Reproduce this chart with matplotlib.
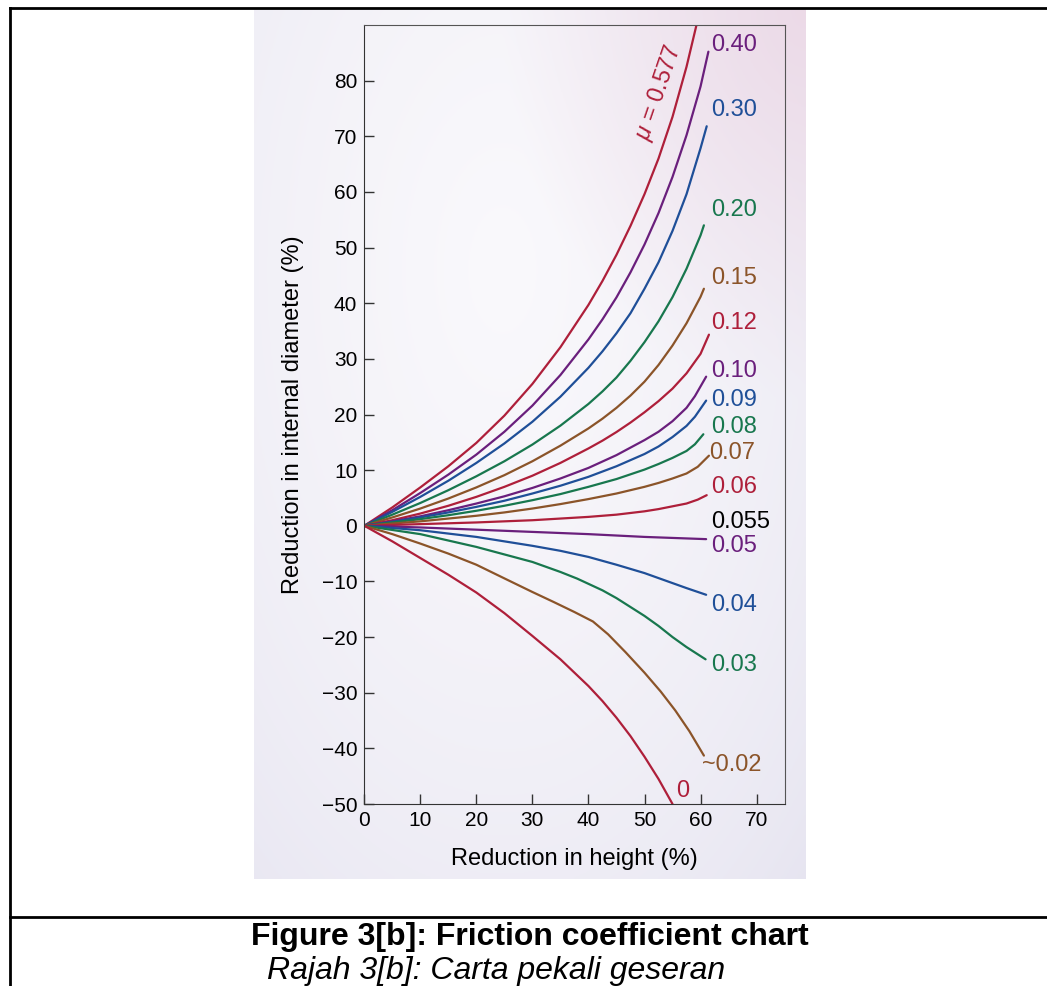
import numpy as np
import matplotlib
matplotlib.use('Agg')
import matplotlib.pyplot as plt
from matplotlib.lines import Line2D

plt.rcParams['font.family'] = ['Liberation Sans', 'DejaVu Sans']
plt.rcParams['mathtext.fontset'] = 'custom'
plt.rcParams['mathtext.it'] = 'Liberation Sans:italic'
plt.rcParams['mathtext.rm'] = 'Liberation Sans'

RED = '#ae1f3a'
PURPLE = '#6a1f7c'
BLUE = '#1f4f98'
GREEN = '#18774e'
BROWN = '#8b5429'

# reduction in height (%) -> reduction in internal diameter (%), one curve per friction coefficient
x_577 = [0, 5, 10, 15, 20, 25, 30, 35, 40, 42.5, 45, 47.5, 50, 52.5, 55, 57.5, 59.3]
y_577 = [0, 3.3, 6.9, 10.7, 14.9, 19.8, 25.5, 32.1, 39.7, 44, 48.7, 53.9, 59.6, 66, 73.5, 82.5, 90.1]
x_40 = [0, 5, 10, 15, 20, 25, 30, 35, 40, 42.5, 45, 47.5, 50, 52.5, 55, 57.5, 60, 61.4]
y_40 = [0, 2.8, 5.9, 9.2, 12.8, 16.9, 21.6, 27.1, 33.5, 37.1, 41.05, 45.55, 50.55, 56.2, 62.7, 70.2, 78.95, 85.2]
x_30 = [0, 5, 10, 15, 20, 25, 30, 35, 40, 42.5, 45, 47.5, 50, 52.5, 55, 57.5, 60, 61.1]
y_30 = [0, 2.5, 5.2, 8.1, 11.3, 14.8, 18.7, 23.2, 28.4, 31.35, 34.6, 38.2, 42.6, 47.35, 53, 59.6, 67.85, 71.8]
x_20 = [0, 5, 10, 15, 20, 25, 30, 35, 40, 42.5, 45, 47.5, 50, 52.5, 55, 57.5, 60, 60.6]
y_20 = [0, 2, 4.1, 6.4, 8.9, 11.6, 14.6, 18, 21.9, 24.15, 26.65, 29.65, 33, 36.75, 41.1, 46.2, 52.2, 54]
x_15 = [0, 5, 10, 15, 20, 25, 30, 35, 40, 42.5, 45, 47.5, 50, 52.5, 55, 57.5, 60, 60.6]
y_15 = [0, 1.5, 3.1, 4.9, 6.9, 9.1, 11.6, 14.4, 17.5, 19.25, 21.2, 23.4, 25.9, 28.9, 32.4, 36.4, 41.15, 42.6]
x_12 = [0, 5, 10, 15, 20, 25, 30, 35, 40, 42.5, 45, 47.5, 50, 52.5, 55, 57.5, 60, 61.5]
y_12 = [0, 1, 2.2, 3.6, 5.2, 7, 9, 11.3, 13.9, 15.3, 16.85, 18.55, 20.4, 22.4, 24.65, 27.4, 30.9, 34.35]
x_10 = [0, 5, 10, 15, 20, 25, 30, 35, 40, 45, 50, 52.5, 55, 57.5, 59, 61]
y_10 = [0, 0.8, 1.7, 2.8, 4, 5.3, 6.8, 8.5, 10.4, 12.7, 15.4, 16.9, 18.8, 21.2, 23.3, 26.8]
x_09 = [0, 5, 10, 15, 20, 25, 30, 35, 40, 45, 50, 52.5, 55, 57.5, 59, 61]
y_09 = [0, 0.7, 1.5, 2.4, 3.4, 4.5, 5.8, 7.2, 8.8, 10.7, 12.9, 14.25, 15.95, 17.95, 19.6, 22.5]
x_08 = [0, 5, 10, 15, 20, 25, 30, 35, 40, 45, 50, 52.5, 55, 57.5, 59, 60.5]
y_08 = [0, 0.6, 1.2, 1.9, 2.7, 3.6, 4.6, 5.7, 7, 8.4, 10.1, 11.1, 12.2, 13.45, 14.65, 16.45]
x_07 = [0, 5, 10, 15, 20, 25, 30, 35, 40, 45, 50, 52.5, 55, 57.5, 59.5, 61.5]
y_07 = [0, 0.4, 0.8, 1.3, 1.8, 2.4, 3.1, 3.9, 4.8, 5.8, 7, 7.7, 8.5, 9.4, 10.6, 12.6]
x_06 = [0, 10, 20, 30, 40, 45, 50, 52.5, 55, 57.5, 59.5, 61.1]
y_06 = [0, 0.3, 0.6, 1, 1.6, 2, 2.6, 3, 3.5, 4, 4.7, 5.5]
x_05 = [0, 10, 20, 30, 40, 50, 61]
y_05 = [0, -0.3, -0.7, -1.1, -1.5, -2, -2.4]
x_04 = [0, 10, 20, 30, 35, 40, 45, 50, 55, 57.5, 61]
y_04 = [0, -0.8, -2, -3.6, -4.5, -5.6, -7, -8.5, -10.3, -11.2, -12.4]
x_03 = [0, 10, 20, 30, 35, 38, 42.5, 45, 47.5, 50, 52.5, 55, 57.5, 60.9]
y_03 = [0, -1.5, -3.8, -6.5, -8.3, -9.5, -11.6, -13, -14.6, -16.2, -18, -20, -21.8, -24]
x_02 = [0, 5, 10, 15, 20, 25.5, 30, 33.8, 37.5, 40.8, 43.5, 46.6, 50, 52.9, 55.5, 58, 60.6]
y_02 = [0, -1.5, -3.2, -5, -7, -9.7, -11.9, -13.7, -15.5, -17.2, -19.5, -22.7, -26.4, -29.8, -33.2, -36.9, -41.3]
x_00 = [0, 5, 10, 15, 20, 25, 30, 35, 40, 42.5, 45, 47.5, 50, 52.5, 55]
y_00 = [0, -2.8, -5.8, -8.8, -12, -15.7, -19.8, -24, -28.8, -31.5, -34.5, -37.8, -41.5, -45.5, -50]

curves = [
    (x_577, y_577, RED), (x_40, y_40, PURPLE), (x_30, y_30, BLUE),
    (x_20, y_20, GREEN), (x_15, y_15, BROWN), (x_12, y_12, RED),
    (x_10, y_10, PURPLE), (x_09, y_09, BLUE), (x_08, y_08, GREEN),
    (x_07, y_07, BROWN), (x_06, y_06, RED), (x_05, y_05, PURPLE),
    (x_04, y_04, BLUE), (x_03, y_03, GREEN), (x_02, y_02, BROWN),
    (x_00, y_00, RED),
]

label_text = ['0.40', '0.30', '0.20', '0.15', '0.12', '0.10', '0.09', '0.08',
              '0.07', '0.06', '0.055', '0.05', '0.04', '0.03', '~0.02', '0']
label_x = [61.8, 61.8, 61.8, 61.8, 61.8, 61.8, 61.8, 61.8,
           61.6, 61.8, 61.8, 61.8, 61.8, 61.8, 60.3, 55.6]
label_y = [86.4, 74.7, 56.8, 44.5, 36.4, 27.9, 22.6, 17.8,
           13.0, 7.0, 0.6, -3.6, -14.2, -25.0, -43.0, -47.6]
label_col = [PURPLE, BLUE, GREEN, BROWN, RED, PURPLE, BLUE, GREEN,
             BROWN, RED, 'black', PURPLE, BLUE, GREEN, BROWN, RED]

W, H = 1047, 986
fig = plt.figure(figsize=(W / 100, H / 100), dpi=100)

# soft photo-like background behind the chart
bg = fig.add_axes([254 / W, 1 - 879 / H, (806 - 254) / W, (879 - 8) / H])
yy, xx = np.mgrid[0:1:300j, 0:1:200j]
base = np.array([226, 224, 238]) / 255
white = np.array([250, 249, 252]) / 255
pink = np.array([236, 216, 230]) / 255
d = np.sqrt(((xx - 0.45) / 0.85) ** 2 + ((yy - 0.3) / 1.0) ** 2)
glow = np.clip(1 - d, 0, 1) ** 0.55
img = base + (white - base) * glow[..., None]
p = np.clip(1 - np.sqrt(((xx - 1.0) / 0.55) ** 2 + (yy / 0.45) ** 2), 0, 1)
img = img + (pink - img) * (p[..., None] * 0.9)
bg.imshow(img, aspect='auto', extent=[0, 1, 0, 1])
bg.axis('off')

ax = fig.add_axes([364.3 / W, 1 - 804 / H, (784.6 - 364.3) / W, (804 - 25) / H])
ax.set_facecolor('none')
for xs, ys, c in curves:
    ax.plot(xs, ys, color=c, lw=1.6, solid_capstyle='round', solid_joinstyle='round')

for t, lx, ly, c in zip(label_text, label_x, label_y, label_col):
    ax.text(lx, ly, t, color=c, fontsize=17, ha='left', va='center')
ax.text(52.6, 77.8, r'$\mu$ = 0.577', color=RED, fontsize=17, rotation=71,
        ha='center', va='center', rotation_mode='anchor')

ax.set_xlim(0, 75)
ax.set_ylim(-50, 90)
ax.set_xticks(range(0, 71, 10))
ax.set_yticks(range(-50, 81, 10))
ax.tick_params(direction='in', length=7, width=1, color='#333333', labelsize=15, pad=5)
for s in ['left', 'bottom']:
    ax.spines[s].set_color('#333333')
for s in ['top', 'right']:
    ax.spines[s].set_color('#555555')
ax.set_xlabel('Reduction in height (%)', fontsize=17, labelpad=13)
ax.set_ylabel('Reduction in internal diameter (%)', fontsize=17, labelpad=13)

# document table lines and caption
lk = dict(color='black', lw=2, transform=fig.transFigure)
fig.add_artist(Line2D([10 / W, 1], [1 - 8 / H, 1 - 8 / H], **lk))
fig.add_artist(Line2D([10 / W, 10 / W], [0, 1 - 8 / H], **lk))
fig.add_artist(Line2D([10 / W, 1], [1 - 917 / H, 1 - 917 / H], **lk))
fig.text(530 / W, 1 - 937 / H, 'Figure 3[b]: Friction coefficient chart',
         ha='center', va='center', fontsize=23, weight='bold')
fig.text(496 / W, 1 - 971 / H, 'Rajah 3[b]: Carta pekali geseran',
         ha='center', va='center', fontsize=23, style='italic')

fig.savefig('out.png', dpi=100)
